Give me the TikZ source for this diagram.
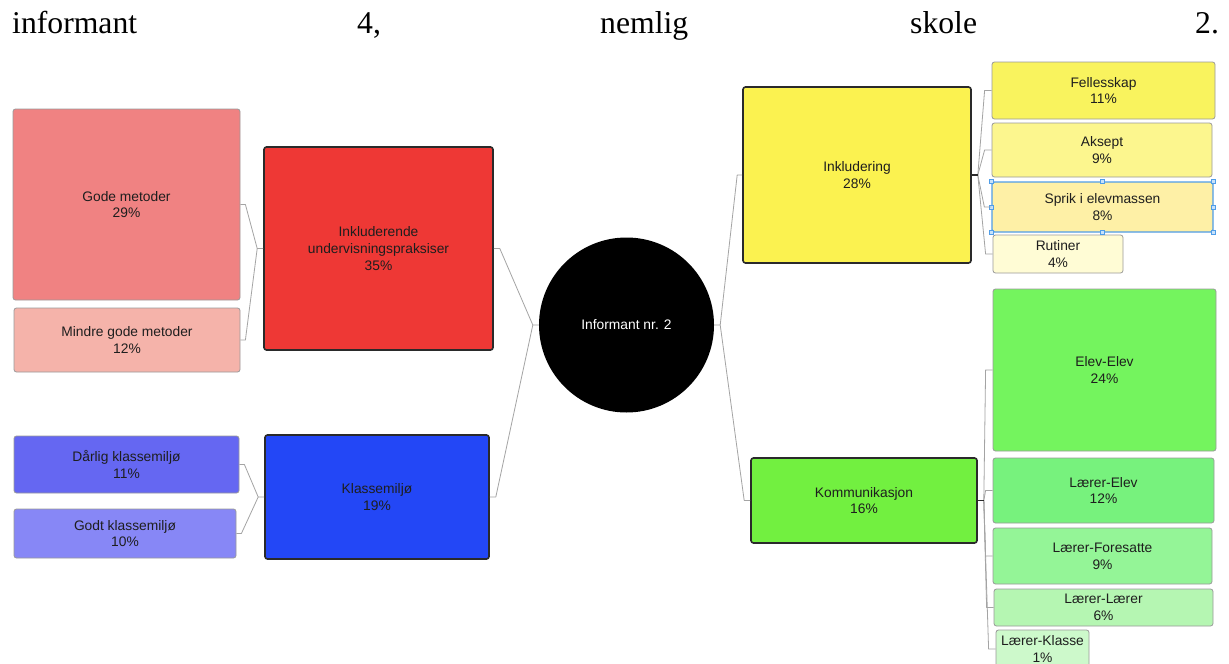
\documentclass[tikz,border=0pt]{standalone}
\usepackage{fontspec}
\setmainfont{Liberation Sans}
\newfontfamily\headserif{Liberation Serif}
\usetikzlibrary{calc}
\definecolor{txt}{HTML}{1E1E1E}
\definecolor{boxgray}{HTML}{9A9A9A}
\definecolor{parentedge}{HTML}{2A2A2A}
\definecolor{conngray}{HTML}{A4A4A4}
\definecolor{selblue}{HTML}{4F9DE8}
\definecolor{handlefill}{HTML}{C8E2FA}
\definecolor{cGode}{HTML}{F08282}
\definecolor{cMindre}{HTML}{F5B3AA}
\definecolor{cInk}{HTML}{EE3835}
\definecolor{cDarlig}{HTML}{6567F2}
\definecolor{cGodt}{HTML}{8787F6}
\definecolor{cKlasse}{HTML}{2347F6}
\definecolor{cInkl}{HTML}{FBF250}
\definecolor{cFelles}{HTML}{F9F35E}
\definecolor{cAksept}{HTML}{FCF68E}
\definecolor{cSprik}{HTML}{FEF0A6}
\definecolor{cRutiner}{HTML}{FFFCD5}
\definecolor{cKomm}{HTML}{72F040}
\definecolor{cElev}{HTML}{74F45E}
\definecolor{cLElev}{HTML}{77F27D}
\definecolor{cLFor}{HTML}{94F597}
\definecolor{cLLaer}{HTML}{B5F6B2}
\definecolor{cLKlasse}{HTML}{CDF9CB}
\tikzset{
  box/.style={draw=boxgray, line width=0.8pt, rounded corners=2.5pt, inner sep=0pt,
    align=center, text=txt, font=\fontsize{13.8}{16.7}\selectfont, rectangle},
  parentbox/.style={box, draw=parentedge, line width=1.6pt},
  conn/.style={draw=conngray, line width=0.8pt, line join=round},
  darkstub/.style={draw=parentedge, line width=1.6pt},
  hdr/.style={anchor=base west, inner sep=0pt, font=\headserif\fontsize{31.7}{36}\selectfont, text=black},
  handle/.style={draw=selblue, fill=handlefill, line width=0.5pt, minimum size=4pt, inner sep=0pt, rectangle}
}
\begin{document}
\begin{tikzpicture}[x=1pt,y=-1pt]
\clip (0,0) rectangle (1229,664);
\fill[white] (0,0) rectangle (1229,664);

% header line
\node[hdr] (h1) at (12,33) {informant};
\node[hdr] (h2) at (357,33) {4,};
\node[hdr] (h3) at (600,33) {nemlig};
\node[hdr] (h4) at (910,33) {skole};
\node[hdr] (h5) at (1195,33) {2.};

% centre
\node[circle, fill=black, minimum size=175pt, inner sep=0pt, text=white,
  font=\fontsize{13.8}{16.7}\selectfont] (root) at (626.5,325) {Informant nr. 2};

% left side
\node[parentbox, fill=cInk, minimum width=229pt, minimum height=203pt] (ink) at (378.5,248.5)
  {Inkluderende\\undervisningspraksiser\\35\%};
\node[box, fill=cGode, minimum width=227pt, minimum height=191pt] (gode) at (126.5,204.5)
  {Gode metoder\\29\%};
\node[box, fill=cMindre, minimum width=226pt, minimum height=64pt] (mindre) at (127,340)
  {Mindre gode metoder\\12\%};
\node[parentbox, fill=cKlasse, minimum width=224pt, minimum height=124pt] (klasse) at (377,497)
  {Klassemiljø\\19\%};
\node[box, fill=cDarlig, minimum width=225pt, minimum height=57pt] (darlig) at (126.5,464.5)
  {Dårlig klassemiljø\\11\%};
\node[box, fill=cGodt, minimum width=222pt, minimum height=49pt] (godt) at (125,533.5)
  {Godt klassemiljø\\10\%};

% right side
\node[parentbox, fill=cInkl, minimum width=228pt, minimum height=176pt] (inkl) at (857,175)
  {Inkludering\\28\%};
\node[box, fill=cFelles, minimum width=223pt, minimum height=57pt] (felles) at (1103.5,90.5)
  {Fellesskap\\11\%};
\node[box, fill=cAksept, minimum width=220pt, minimum height=54pt] (aksept) at (1102,150)
  {Aksept\\9\%};
\node[box, fill=cSprik, draw=selblue, line width=1.3pt, minimum width=221pt, minimum height=50pt] (sprik) at (1102.5,207)
  {Sprik i elevmassen\\8\%};
\node[box, fill=cRutiner, minimum width=130pt, minimum height=38pt] (rutiner) at (1058,254)
  {Rutiner\\4\%};

\node[parentbox, fill=cKomm, minimum width=226pt, minimum height=85pt] (komm) at (864,500.5)
  {Kommunikasjon\\16\%};
\node[box, fill=cElev, minimum width=223pt, minimum height=162pt] (elev) at (1104.5,370)
  {Elev-Elev\\24\%};
\node[box, fill=cLElev, minimum width=221pt, minimum height=65pt] (lelev) at (1103.5,490.5)
  {Lærer-Elev\\12\%};
\node[box, fill=cLFor, minimum width=219pt, minimum height=56pt] (lfor) at (1102.5,556)
  {Lærer-Foresatte\\9\%};
\node[box, fill=cLLaer, minimum width=219pt, minimum height=37pt] (llaer) at (1103.5,607.5)
  {Lærer-Lærer\\6\%};
\node[box, fill=cLKlasse, minimum width=93pt, minimum height=38pt] (lklasse) at (1042.5,649)
  {Lærer-Klasse\\1\%};

% selection handles
\foreach \a in {north west,north,north east,west,east,south west,south,south east}
  \node[handle] at (sprik.\a) {};

% connectors: left children -> parents
\draw[conn] (gode.east) -- ++(5,0) -- ($(ink.west)+(-6,0)$) -- (ink.west);
\draw[conn] (mindre.east) -- ++(5,0) -- ($(ink.west)+(-6,0)$);
\draw[conn] (darlig.east) -- ++(5,0) -- ($(klasse.west)+(-6,0)$) -- (klasse.west);
\draw[conn] (godt.east) -- ++(5,0) -- ($(klasse.west)+(-6,0)$);

% parents -> root
\draw[conn] (ink.east) -- ++(6,0) -- ($(root.west)+(-6,0)$) -- (root.west);
\draw[conn] (klasse.east) -- ++(6,0) -- ($(root.west)+(-6,0)$);
\draw[conn] (root.east) -- ++(6,0) -- ($(inkl.west)+(-5,0)$) -- (inkl.west);
\draw[conn] ($(root.east)+(6,0)$) -- ($(komm.west)+(-6,0)$) -- (komm.west);

% right parents -> children
\coordinate (inklj) at ($(inkl.east)+(6,0)$);
\foreach \c in {felles,aksept,sprik,rutiner}
  \draw[conn] (inklj) -- ($(\c.west)+(-7,0)$) -- (\c.west);
\draw[darkstub] (inkl.east) -- (inklj);

\coordinate (kommj) at ($(komm.east)+(6,0)$);
\foreach \c in {elev,lelev,lfor,llaer,lklasse}
  \draw[conn] (kommj) -- ($(\c.west)+(-7,0)$) -- (\c.west);
\draw[darkstub] (komm.east) -- (kommj);
\end{tikzpicture}
\end{document}
